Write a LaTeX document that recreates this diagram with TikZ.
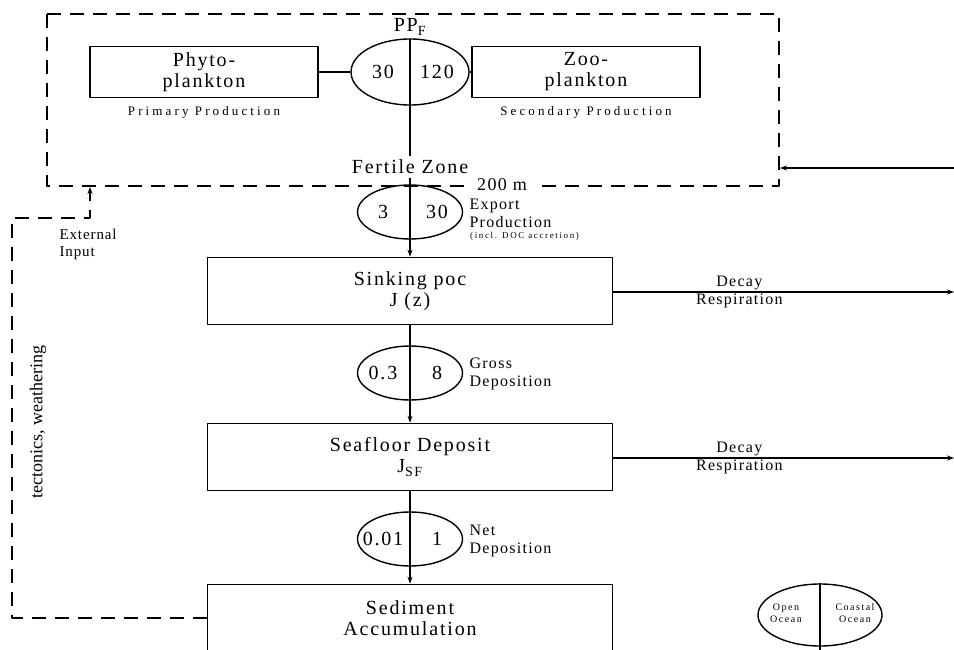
\documentclass[tikz,border=0pt]{standalone}
\usepackage{fontspec}
\setmainfont{Liberation Serif}
\usetikzlibrary{arrows.meta,positioning,shapes.geometric}

\newcommand\boxfont{\fontsize{20}{21}\selectfont\addfontfeature{LetterSpace=9}}
\newcommand\sidefont{\fontsize{16}{18}\selectfont\addfontfeature{LetterSpace=8}}
\newcommand\notefont{\fontsize{13}{15}\selectfont\addfontfeature{LetterSpace=24}}
\newcommand\tinyfont{\fontsize{9}{10}\selectfont\addfontfeature{LetterSpace=18}}

\begin{document}
\begin{tikzpicture}[x=1pt, y=-1pt, >={Stealth[length=7pt,width=5pt]}, line join=round, font=\boxfont,
  box/.style={draw, line width=1.6pt, minimum width=405pt, minimum height=67pt, inner sep=0pt, align=center},
  plank/.style={box, minimum width=228pt, minimum height=51pt},
  flux/.style={draw, ellipse, line width=1.4pt, minimum width=105pt, minimum height=54pt, inner sep=0pt},
  flow/.style={line width=1.2pt},
  zone/.style={line width=1.6pt, dash pattern=on 14pt off 9pt},
  side/.style={font=\sidefont, anchor=west, align=left},
  note/.style={font=\notefont},
  key/.style={font=\fontsize{10}{12}\selectfont\addfontfeature{LetterSpace=15}, fill=white, inner sep=1pt, align=center}]
	\useasboundingbox (0,0) rectangle (954,650);
	% Fertile zone (dashed) with the 200 m limit
	\draw[zone] (47,14) rectangle (779,186);
	\node[fill=white, inner xsep=7pt, inner ysep=0pt, font=\fontsize{18}{20}\selectfont\addfontfeature{LetterSpace=8}] (depth) at (502,185) {200 m};
	\coordinate (zoneE) at (780,168);
	\coordinate (inflow) at (954,168);
	\draw[flow,->] (inflow) -- (zoneE);
	% Plankton boxes and primary production
	\node[plank] (phyto) at (204,72) {Phyto-\\plankton};
	\node[plank] (zoo) at (586,72) {Zoo-\\plankton};
	\node[flux, minimum width=118pt, minimum height=66pt] (pp) at (410,72) {};
	\node (ppf) at (410,27) {PP\textsubscript{F}};
	\node[note] at (204,112) {Primary Production};
	\node[note] at (586,112) {Secondary Production};
	\node (fz) at (410,167) {Fertile Zone};
	\draw[flow] (phyto.east) -- (pp.west);
	\draw[flow] (pp.east) -- (zoo.west);
	% Flux ellipses
	\node[flux] (ex) at (410,212) {};
	\node[flux] (gd) at (410,373) {};
	\node[flux] (nd) at (410,539) {};
	\foreach \f/\l/\r in {pp/30/120, ex/3/30, gd/0.3/8, nd/0.01/1}
	{
		\node at ([xshift=-27pt]\f.center) {\l};
		\node at ([xshift=27pt]\f.center) {\r};
	}
	\node[side] (exlab) at (466,213) {Export\\Production};
	\node[font=\tinyfont, anchor=north west, inner sep=0pt] at ([xshift=4pt,yshift=-1pt]exlab.south west) {(incl. DOC accretion)};
	\node[side] at (466,374) {Gross\\Deposition};
	\node[side] at (466,541) {Net\\Deposition};
	% Pools in the water column and at the seafloor
	\node[box] (sink) at (410,291) {Sinking poc\\J (z)};
	\node[box] (floor) at (410,457) {Seafloor Deposit\\J\textsubscript{SF}};
	\node[box] (sed) at (410,618) {Sediment\\Accumulation};
	% Vertical flux
	\draw[flow] (ppf.south) -- (fz.north);
	\draw[flow,->] (fz.south) -- (sink.north);
	\draw[flow,->] (sink.south) -- (floor.north);
	\draw[flow,->] (floor.south) -- (sed.north);
	% Losses by decay
	\coordinate (out1) at (954,292);
	\coordinate (out2) at (954,458);
	\foreach \b/\o in {sink/out1, floor/out2}
	\draw[flow,->] (\b.east |- \o) -- (\o)
		node[pos=0.37, above=-2pt, font=\sidefont] {Decay}
		node[pos=0.37, below=-2pt, font=\sidefont] {Respiration};
	% Return path from the sediment
	\coordinate (c1) at (12,618);
	\coordinate (c2) at (12,218);
	\coordinate (c3) at (90,218);
	\coordinate (c4) at (90,187);
	\draw[zone,->] (sed.west) -- (c1) -- (c2) -- (c3) -- (c4);
	\node[side, font=\fontsize{15}{17}\selectfont\addfontfeature{LetterSpace=6}] at (56,244) {External\\Input};
	\node[rotate=90, font=\fontsize{18}{21}\selectfont] at (38,422) {tectonics, weathering};
	% Legend
	\node[flux, minimum width=124pt, minimum height=62pt] (legend) at (820,615) {};
	\coordinate (legendB) at (820,650);
	\draw[flow] (legend.north) -- (legendB);
	\node[key] at (786,613) {Open\\Ocean};
	\node[key] at (855,613) {Coastal\\Ocean};
\end{tikzpicture}
\end{document}
